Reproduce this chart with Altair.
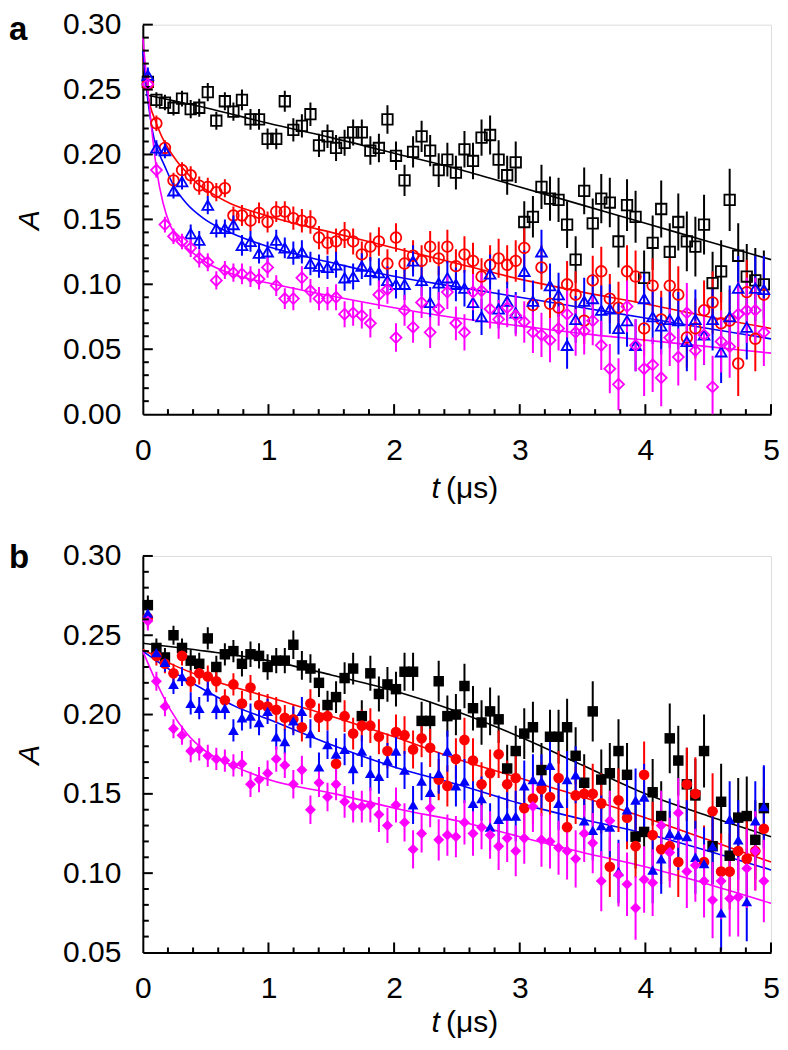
import altair as alt
import pandas as pd

FONT = "Liberation Sans"

# common time grid (microseconds)
T = [0.040, 0.108, 0.176, 0.244, 0.312, 0.381, 0.449, 0.517, 0.585, 0.653,
     0.721, 0.789, 0.857, 0.925, 0.993, 1.062, 1.130, 1.198, 1.266, 1.334,
     1.402, 1.470, 1.538, 1.606, 1.674, 1.743, 1.811, 1.879, 1.947, 2.015,
     2.083, 2.151, 2.219, 2.287, 2.355, 2.424, 2.492, 2.560, 2.628, 2.696,
     2.764, 2.832, 2.900, 2.968, 3.036, 3.105, 3.173, 3.241, 3.309, 3.377,
     3.445, 3.513, 3.581, 3.649, 3.717, 3.786, 3.854, 3.922, 3.990, 4.058,
     4.126, 4.194, 4.262, 4.330, 4.398, 4.467, 4.535, 4.603, 4.671, 4.739,
     4.807, 4.875, 4.943]

# error bar half-lengths
ERR = [0.006, 0.006, 0.006, 0.006, 0.006, 0.007, 0.007, 0.007,
       0.007, 0.007, 0.007, 0.008, 0.008, 0.008, 0.008, 0.008,
       0.008, 0.009, 0.009, 0.009, 0.009, 0.009, 0.010,
       0.010, 0.010, 0.010, 0.011, 0.011, 0.011, 0.011,
       0.012, 0.012, 0.012, 0.012, 0.013, 0.013, 0.013,
       0.014, 0.014, 0.014, 0.015, 0.015, 0.015, 0.016,
       0.016, 0.016, 0.017, 0.017, 0.017, 0.018, 0.018,
       0.018, 0.019, 0.019, 0.019, 0.020, 0.020, 0.020,
       0.021, 0.021, 0.022, 0.022, 0.022, 0.023, 0.023,
       0.023, 0.024, 0.024, 0.024, 0.025, 0.025, 0.025, 0.026]

# ---- panel a (open symbols) ----
A_BLACK = [0.256, 0.242, 0.240, 0.236, 0.243, 0.235, 0.236, 0.248, 0.226, 0.241,
           0.233, 0.242, 0.227, 0.227, 0.212, 0.212, 0.241, 0.219, 0.222, 0.231,
           0.207, 0.214, 0.205, 0.209, 0.217, 0.217, 0.203, 0.205, 0.227, 0.199,
           0.180, 0.202, 0.214, 0.203, 0.188, 0.196, 0.186, 0.204,
           0.195, 0.213, 0.215, 0.196, 0.184, 0.194, 0.148, 0.152, 0.175, 0.166,
           0.165, 0.146, 0.119, 0.172, 0.147, 0.166, 0.163, 0.133, 0.161, 0.152,
           0.105, 0.132, 0.158, 0.125, 0.148, 0.133, 0.129, 0.146, 0.101, 0.110,
           0.165, 0.122, 0.106, 0.103, 0.100]
A_RED = [0.254, 0.224, 0.205, 0.180, 0.188, 0.184, 0.176, 0.175, 0.171, 0.174,
         0.153, 0.153, 0.149, 0.155, 0.148, 0.156, 0.156, 0.151, 0.149, 0.148,
         0.136, 0.132, 0.133, 0.138, 0.133, 0.123, 0.129, 0.133, 0.116, 0.136,
         0.116, 0.122, 0.118, 0.129, 0.120, 0.129, 0.114, 0.123,
         0.118, 0.106, 0.115, 0.120, 0.115, 0.118, 0.128, 0.084, 0.113, 0.085,
         0.082, 0.100, 0.092, 0.072, 0.103, 0.110, 0.089, 0.082, 0.110, 0.106,
         0.066, 0.099, 0.073, 0.099, 0.092, 0.059, 0.066, 0.080, 0.086, 0.070,
         0.072, 0.039, 0.094, 0.058, 0.092]
A_BLUE = [0.261, 0.205, 0.203, 0.172, 0.179, 0.139, 0.134, 0.161, 0.143, 0.143,
          0.146, 0.130, 0.133, 0.124, 0.125, 0.134, 0.128, 0.124, 0.125, 0.116,
          0.114, 0.113, 0.115, 0.105, 0.106, 0.114, 0.110, 0.109, 0.103, 0.100,
          0.100, 0.118, 0.103, 0.086, 0.101, 0.105, 0.100, 0.097,
          0.086, 0.075, 0.108, 0.081, 0.087, 0.078, 0.110, 0.087, 0.125, 0.099,
          0.092, 0.053, 0.073, 0.087, 0.089, 0.080, 0.081, 0.066, 0.072, 0.053,
          0.089, 0.075, 0.068, 0.073, 0.072, 0.056, 0.073, 0.061, 0.073, 0.048,
          0.075, 0.097, 0.067, 0.097, 0.096]
A_MAG = [0.254, 0.188, 0.146, 0.137, 0.133, 0.128, 0.120, 0.117, 0.103, 0.111,
         0.109, 0.108, 0.106, 0.104, 0.113, 0.099, 0.089, 0.089, 0.105, 0.095,
         0.089, 0.089, 0.090, 0.077, 0.078, 0.076, 0.070, 0.092, 0.096, 0.059,
         0.080, 0.067, 0.086, 0.063, 0.081, 0.094, 0.070, 0.063,
         0.094, 0.095, 0.081, 0.073, 0.082, 0.076, 0.071, 0.063, 0.061, 0.057,
         0.066, 0.077, 0.063, 0.064, 0.072, 0.053, 0.035, 0.023, 0.083, 0.053,
         0.035, 0.038, 0.028, 0.059, 0.044, 0.078, 0.049, 0.061, 0.021, 0.056,
         0.052, 0.077, 0.080, 0.080, 0.063]

# fit curves, panel a
FA_BLACK_T = [0.02, 0.5, 1.0, 1.5, 2.0, 2.5, 3.0, 3.5, 4.0, 4.5, 5.0]
FA_BLACK_A = [0.246, 0.236, 0.224, 0.213, 0.201, 0.189, 0.175, 0.161, 0.147, 0.133, 0.119]
FA_RED_T = [0.0, 0.03, 0.06, 0.1, 0.15, 0.2, 0.27, 0.35, 0.43, 0.55, 0.7, 0.95, 1.2, 1.5,
            2.0, 2.5, 3.0, 3.5, 4.0, 4.5, 5.0]
FA_RED_A = [0.275, 0.252, 0.237, 0.226, 0.214, 0.205, 0.195, 0.186, 0.178, 0.170, 0.162,
            0.154, 0.147, 0.140, 0.128, 0.116, 0.104, 0.094, 0.085, 0.075, 0.066]
FA_BLUE_T = [0.0, 0.03, 0.06, 0.09, 0.12, 0.17, 0.24, 0.35, 0.48, 0.6, 0.74, 1.0, 1.27,
             1.53, 1.8, 2.06, 2.5, 3.0, 3.5, 4.0, 4.5, 5.0]
FA_BLUE_A = [0.280, 0.250, 0.228, 0.212, 0.203, 0.192, 0.177, 0.162, 0.151, 0.144, 0.138,
             0.129, 0.122, 0.116, 0.110, 0.105, 0.098, 0.090, 0.082, 0.074, 0.066, 0.058]
FA_MAG_T = [0.0, 0.03, 0.07, 0.11, 0.16, 0.22, 0.3, 0.4, 0.5, 0.74, 1.0, 1.5, 2.0, 2.5,
            3.0, 3.5, 4.0, 4.5, 5.0]
FA_MAG_A = [0.290, 0.258, 0.220, 0.188, 0.163, 0.145, 0.133, 0.124, 0.117, 0.107, 0.101,
            0.091, 0.082, 0.074, 0.068, 0.062, 0.057, 0.052, 0.047]

# ---- panel b (filled symbols) ----
B_BLACK = [0.269, 0.242, 0.236, 0.250, 0.242, 0.234, 0.232, 0.248, 0.230, 0.238,
           0.240, 0.232, 0.238, 0.237, 0.230, 0.234, 0.234, 0.244, 0.231, 0.229,
           0.220, 0.206, 0.211, 0.223, 0.229, 0.199, 0.226, 0.213, 0.219, 0.216,
           0.227, 0.227, 0.196, 0.196, 0.221, 0.199, 0.200, 0.218,
           0.204, 0.195, 0.202, 0.197, 0.166, 0.177, 0.188, 0.192, 0.165, 0.186,
           0.186, 0.192, 0.174, 0.157, 0.202, 0.159, 0.163, 0.177, 0.162, 0.123,
           0.126, 0.151, 0.136, 0.185, 0.171, 0.156, 0.149, 0.177, 0.117, 0.145,
           0.111, 0.135, 0.136, 0.121, 0.141]
B_RED = [0.261, 0.237, 0.232, 0.226, 0.237, 0.221, 0.226, 0.224, 0.221, 0.209,
         0.219, 0.207, 0.217, 0.206, 0.205, 0.203, 0.198, 0.197, 0.192, 0.207,
         0.198, 0.199, 0.169, 0.199, 0.188, 0.193, 0.193, 0.186, 0.177, 0.189,
         0.187, 0.178, 0.185, 0.179, 0.159, 0.155, 0.172, 0.184,
         0.171, 0.156, 0.163, 0.175, 0.156, 0.160, 0.141, 0.147, 0.153, 0.148,
         0.160, 0.129, 0.149, 0.150, 0.150, 0.144, 0.104, 0.146, 0.135, 0.117,
         0.162, 0.124, 0.115, 0.117, 0.107, 0.156, 0.150, 0.107, 0.139, 0.101,
         0.101, 0.114, 0.109, 0.114, 0.128]
B_BLUE = [0.264, 0.239, 0.233, 0.219, 0.224, 0.207, 0.204, 0.215, 0.204, 0.204,
          0.190, 0.198, 0.199, 0.195, 0.202, 0.186, 0.183, 0.196, 0.202, 0.188,
          0.167, 0.181, 0.175, 0.178, 0.166, 0.177, 0.163, 0.161, 0.171, 0.177,
          0.165, 0.143, 0.158, 0.151, 0.163, 0.177, 0.155, 0.158,
          0.144, 0.147, 0.129, 0.134, 0.136, 0.136, 0.155, 0.159, 0.158, 0.168,
          0.144, 0.159, 0.162, 0.133, 0.127, 0.130, 0.129, 0.101, 0.140, 0.146,
          0.148, 0.102, 0.109, 0.125, 0.124, 0.123, 0.110, 0.106, 0.117, 0.075,
          0.134, 0.121, 0.082, 0.133, 0.142]
B_MAG = [0.259, 0.221, 0.205, 0.191, 0.187, 0.177, 0.178, 0.174, 0.172, 0.171,
         0.168, 0.169, 0.156, 0.159, 0.163, 0.172, 0.168, 0.156, 0.165, 0.140,
         0.157, 0.148, 0.156, 0.145, 0.142, 0.142, 0.143, 0.137, 0.130, 0.143,
         0.132, 0.115, 0.125, 0.141, 0.121, 0.124, 0.123, 0.132,
         0.125, 0.129, 0.124, 0.117, 0.122, 0.114, 0.122, 0.142, 0.121, 0.120,
         0.116, 0.114, 0.109, 0.125, 0.119, 0.095, 0.133, 0.099, 0.093, 0.078,
         0.096, 0.094, 0.130, 0.113, 0.138, 0.101, 0.105, 0.095, 0.083, 0.095,
         0.084, 0.085, 0.103, 0.114, 0.095]

# fit curves, panel b
FB_BLACK_T = [0.0, 0.5, 1.0, 1.5, 2.0, 2.5, 3.0, 3.5, 4.0, 4.5, 5.0]
FB_BLACK_A = [0.245, 0.240, 0.234, 0.225, 0.215, 0.202, 0.186, 0.168, 0.150, 0.136, 0.123]
FB_RED_T = [0.0, 0.25, 0.5, 1.0, 1.5, 2.0, 2.5, 3.0, 3.5, 4.0, 4.5, 5.0]
FB_RED_A = [0.241, 0.231, 0.223, 0.211, 0.199, 0.186, 0.172, 0.160, 0.148, 0.135, 0.121, 0.107]
FB_BLUE_T = [0.0, 0.22, 0.48, 0.74, 1.0, 1.5, 2.0, 2.5, 3.0, 3.5, 4.0, 4.5, 5.0]
FB_BLUE_A = [0.240, 0.228, 0.216, 0.205, 0.197, 0.181, 0.167, 0.156, 0.144, 0.134, 0.125,
             0.114, 0.102]
FB_MAG_T = [0.0, 0.11, 0.22, 0.35, 0.48, 0.74, 1.0, 1.53, 2.06, 2.5, 3.0, 3.5, 4.0, 4.5, 5.0]
FB_MAG_A = [0.240, 0.220, 0.203, 0.188, 0.178, 0.167, 0.159, 0.150, 0.140, 0.133, 0.123,
            0.113, 0.104, 0.093, 0.081]

# axes
X_LABELS = [0, 1, 2, 3, 4, 5]
X_MAJOR_TICKS = [1, 2, 3, 4, 5]
X_MINOR_TICKS = [round(0.2 * k, 1) for k in range(1, 25) if k % 5 != 0]
YA_LABELS = [0.0, 0.05, 0.10, 0.15, 0.20, 0.25, 0.30]
YB_LABELS = [0.05, 0.10, 0.15, 0.20, 0.25, 0.30]

NAMES = ["s1", "s2", "s3", "s4"]
COLORS = ["#000000", "#ff0000", "#0000ff", "#ff00ff"]
SHAPES = ["square", "circle", "triangle-up", "diamond"]

W = 629
LFS = 30      # tick label font size


def panel(letter, vals, fits, ydom, ylabels, H, filled, sizes, letter_y, title_dy):
    rows = []
    for name, v in zip(NAMES, vals):
        for i, (t, a) in enumerate(zip(T, v)):
            rows.append({"s": name, "t": t, "A": a, "lo": a - ERR[i], "hi": a + ERR[i]})
    pts = pd.DataFrame(rows)
    frows = []
    for name, (ft, fa) in zip(NAMES, fits):
        for t, a in zip(ft, fa):
            frows.append({"s": name, "t": t, "A": a})
    fdf = pd.DataFrame(frows)

    ymaj = [v for v in ylabels if v > ydom[0] + 1e-9]
    ymin = [round(ydom[0] + 0.01 * k, 2) for k in range(1, int(round((ydom[1] - ydom[0]) / 0.01)))
            if k % 5 != 0]

    xs = alt.Scale(domain=[0, 5], nice=False, zero=False)
    ys = alt.Scale(domain=ydom, nice=False, zero=False)
    xaxis = alt.Axis(values=X_LABELS, format="d", title=None, ticks=False, grid=False,
                     domainColor="black", domainWidth=2, labelFont=FONT, labelFontSize=LFS,
                     labelColor="black", labelPadding=21, labelFlush=False, labelOverlap=False)
    yaxis = alt.Axis(values=ylabels, format=".2f", title="A", ticks=False, grid=False,
                     domainColor="black", domainWidth=2, labelFont=FONT, labelFontSize=LFS,
                     labelColor="black", labelPadding=22, labelFlush=False, labelOverlap=False,
                     titleFont=FONT, titleFontSize=30, titleFontStyle="italic",
                     titleFontWeight="normal", titleColor="black", titleAngle=270,
                     titleBaseline="middle", titleAlign="center", titleX=-113, titleY=H / 2)
    color = alt.Color("s:N", scale=alt.Scale(domain=NAMES, range=COLORS), legend=None)
    X = alt.X("t:Q", scale=xs, axis=xaxis)

    lines = alt.Chart(fdf).mark_line(strokeWidth=1.6, interpolate="monotone").encode(
        x=X, y=alt.Y("A:Q", scale=ys, axis=yaxis), color=color, detail="s:N")
    errs = alt.Chart(pts).mark_rule(strokeWidth=2, clip=True).encode(
        x=X, y=alt.Y("lo:Q", scale=ys, axis=yaxis), y2="hi:Q", color=color)
    points = alt.Chart(pts).mark_point(filled=filled, strokeWidth=1.8, opacity=1).encode(
        x=X, y=alt.Y("A:Q", scale=ys, axis=yaxis), color=color,
        shape=alt.Shape("s:N", scale=alt.Scale(domain=NAMES, range=SHAPES), legend=None),
        size=alt.Size("s:N", scale=alt.Scale(domain=NAMES, range=sizes), legend=None))

    xmaj = alt.Chart(pd.DataFrame({"v": X_MAJOR_TICKS})).mark_rule(color="black", strokeWidth=2).encode(
        x=alt.X("v:Q", scale=xs, axis=xaxis), y=alt.value(H), y2=alt.value(H - 10))
    xmin = alt.Chart(pd.DataFrame({"v": X_MINOR_TICKS})).mark_rule(color="black", strokeWidth=2).encode(
        x=alt.X("v:Q", scale=xs, axis=xaxis), y=alt.value(H), y2=alt.value(H - 5))
    ymj = alt.Chart(pd.DataFrame({"v": ymaj})).mark_rule(color="black", strokeWidth=2).encode(
        y=alt.Y("v:Q", scale=ys, axis=yaxis), x=alt.value(0), x2=alt.value(10))
    ymn = alt.Chart(pd.DataFrame({"v": ymin})).mark_rule(color="black", strokeWidth=2).encode(
        y=alt.Y("v:Q", scale=ys, axis=yaxis), x=alt.value(0), x2=alt.value(6))

    lab = alt.Chart(pd.DataFrame({"k": [letter]})).mark_text(
        font=FONT, fontSize=33, fontWeight="bold", align="left", baseline="alphabetic",
        color="black").encode(text="k:N", x=alt.value(-134), y=alt.value(letter_y))
    tt = alt.Chart(pd.DataFrame({"k": ["t"]})).mark_text(
        font=FONT, fontSize=30, fontStyle="italic", align="right", baseline="alphabetic",
        color="black").encode(text="k:N", x=alt.value(W / 2 - 17), y=alt.value(H + title_dy))
    unit = alt.Chart(pd.DataFrame({"k": ["(μs)"]})).mark_text(
        font=FONT, fontSize=30, align="left", baseline="alphabetic",
        color="black").encode(text="k:N", x=alt.value(W / 2 - 11), y=alt.value(H + title_dy))

    return alt.layer(lines, errs, points, xmaj, xmin, ymj, ymn, lab, tt, unit).properties(
        width=W, height=H)


pa = panel("a", [A_BLACK, A_RED, A_BLUE, A_MAG],
           [(FA_BLACK_T, FA_BLACK_A), (FA_RED_T, FA_RED_A), (FA_BLUE_T, FA_BLUE_A), (FA_MAG_T, FA_MAG_A)],
           [0.0, 0.30], YA_LABELS, 390, False, [110, 120, 160, 130], 15, 84)
pb = panel("b", [B_BLACK, B_RED, B_BLUE, B_MAG],
           [(FB_BLACK_T, FB_BLACK_A), (FB_RED_T, FB_RED_A), (FB_BLUE_T, FB_BLUE_A), (FB_MAG_T, FB_MAG_A)],
           [0.05, 0.30], YB_LABELS, 397, True, [130, 130, 160, 120], 12, 80)

chart = alt.vconcat(pa, pb, spacing=35,
                    padding={"left": 0, "top": 0, "right": 0, "bottom": 0}).configure_view(
    stroke=None).configure(background="white")

chart.save("out.html", embed_options={"renderer": "svg", "actions": False})
